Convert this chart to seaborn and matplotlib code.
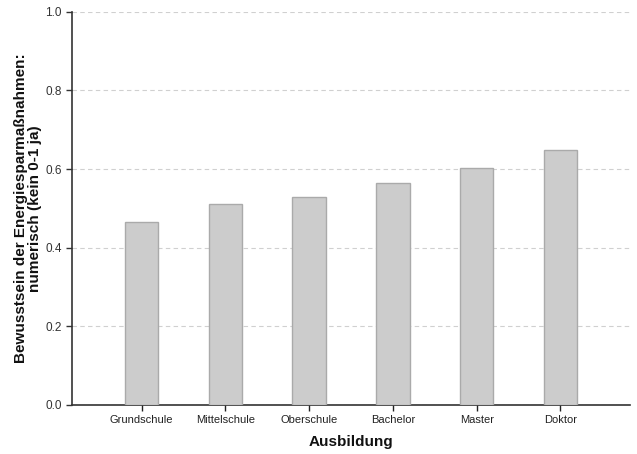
import matplotlib
matplotlib.use("Agg")
import matplotlib.pyplot as plt
import seaborn as sns
import pandas as pd

categories = ["Grundschule", "Mittelschule", "Oberschule", "Bachelor", "Master", "Doktor"]
values = [0.466, 0.511, 0.529, 0.565, 0.603, 0.649]
yticks = [0.0, 0.2, 0.4, 0.6, 0.8, 1.0]

sns.set_theme(style="white")
plt.rcParams['font.family'] = ['Liberation Sans', 'DejaVu Sans']

df = pd.DataFrame({"Ausbildung": categories, "val": values})

fig = plt.figure(figsize=(6.37, 4.54), dpi=100)
ax = fig.add_axes([0.113, 0.108, 0.876, 0.866])
sns.barplot(data=df, x="Ausbildung", y="val", order=categories, color="#cccccc",
            edgecolor="#aaaaaa", linewidth=1, width=0.4, saturation=1, ax=ax, zorder=3)
ax.set_ylim(0, 1.0)
ax.set_xlim(-0.83, 5.83)
ax.set_yticks(yticks)
ax.set_yticklabels([f"{t:.1f}" for t in yticks], fontsize=8.5, color="#333333")
ax.tick_params(axis="x", labelsize=8, colors="#222222", length=4, width=1, direction="out", bottom=True)
ax.tick_params(axis="y", length=4, width=1, direction="out", left=True, colors="#333333", labelcolor="#333333")
ax.yaxis.grid(True, linestyle=(0, (4, 3)), color="#d0d0d0", linewidth=0.8, zorder=0)
ax.xaxis.grid(False)
for s in ["top", "right"]:
    ax.spines[s].set_visible(False)
for s in ["left", "bottom"]:
    ax.spines[s].set_color("#333333")
    ax.spines[s].set_linewidth(1.2)
ax.set_xlabel("Ausbildung", fontsize=11, fontweight="bold", color="#111111", labelpad=7)
ax.set_ylabel("Bewusstsein der Energiesparmaßnahmen:\nnumerisch (kein 0-1 ja)", fontsize=11,
              fontweight="bold", color="#111111", labelpad=2, linespacing=1.0)
fig.savefig("out.png", dpi=100)
